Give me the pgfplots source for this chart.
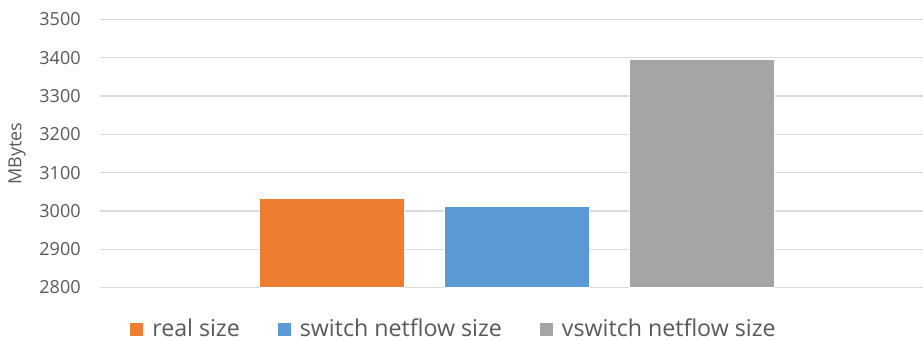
\documentclass[border=0pt]{standalone}
\usepackage{fontspec}
\setmainfont{Open Sans}
\usepackage{pgfplots}
\pgfplotsset{compat=1.18}
\definecolor{corange}{HTML}{ED7D31}
\definecolor{cblue}{HTML}{5B9BD5}
\definecolor{cgray}{HTML}{A5A5A5}
\definecolor{gridgray}{HTML}{D9D9D9}
\definecolor{tickgray}{HTML}{595959}
\begin{document}
\begin{tikzpicture}
\path[use as bounding box] (-50pt,-25.75pt) rectangle (411.5pt,143.75pt);
\begin{axis}[
  scale only axis, width=411.5pt, height=134pt,
  at={(0pt,0pt)}, anchor=south west,
  xmin=-1.251, xmax=3.197, ymin=2800, ymax=3500,
  ytick={2800,2900,...,3500}, xtick=\empty,
  ymajorgrids, grid style={draw=gridgray, line width=0.7pt},
  axis line style={draw=none}, major tick length=0pt,
  yticklabel style={font=\fontsize{9}{10}\selectfont, text=tickgray, anchor=east, inner sep=0pt, xshift=-9.5pt},
  /pgf/number format/assume math mode=true,
  /pgf/number format/1000 sep={},
  ylabel={MBytes},
  every axis y label/.style={at={(axis description cs:-0.1008,0.5)}, rotate=90, anchor=center, font=\fontsize{9}{10}\selectfont, text=tickgray},
  ybar, bar width=72.5pt, bar shift=0pt,
  legend columns=3,
  legend style={at={(axis description cs:0.4313,0)}, anchor=center, yshift=-20.75pt, draw=none, fill=none,
    font=\fontsize{11.6}{14}\selectfont, text=tickgray,
    /tikz/every odd column/.append style={column sep=2.5pt},
    /tikz/every even column/.append style={column sep=17pt}},
  legend image code/.code={\fill[#1,draw=none] (0pt,-3.25pt) rectangle (6.5pt,3.25pt);},
]
\addplot[fill=corange, draw=white, line width=0.3pt] coordinates {(0,3032)};
\addplot[fill=cblue, draw=white, line width=0.3pt] coordinates {(1,3012)};
\addplot[fill=cgray, draw=white, line width=0.3pt] coordinates {(2,3396)};
\legend{real size, switch netflow size, vswitch netflow size}
\end{axis}
\end{tikzpicture}
\end{document}
